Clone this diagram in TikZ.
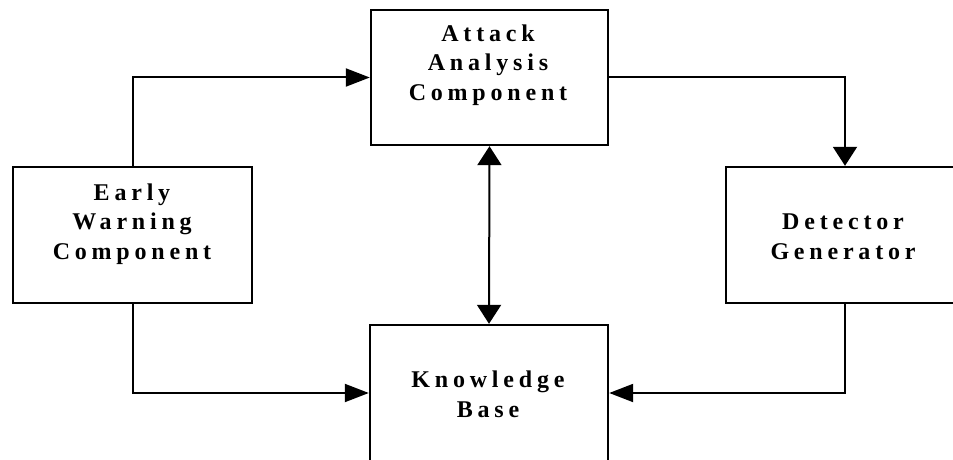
\documentclass[tikz,border=0pt]{standalone}
\usepackage{fontspec}
\newfontfamily\boxfont{Liberation Serif}[LetterSpace=20]
\usetikzlibrary{arrows.meta}
\begin{document}
\begin{tikzpicture}[x=1pt,y=-1pt,
  block/.style={draw, line width=2.4pt, inner sep=0pt},
  lbl/.style={align=center, inner sep=0pt, anchor=base,
    font=\boxfont\bfseries\fontsize{24}{29.5}\selectfont},
  link/.style={line width=2pt},
  hhead/.style={-{Triangle[length=24pt,width=18pt]}},
  vhead/.style={-{Triangle[length=19pt,width=24pt]}},
  bothhead/.style={{Triangle[length=19pt,width=24pt]}-{Triangle[length=19pt,width=24pt]}}
]
\useasboundingbox (0,0) rectangle (953,460);

% component boxes
\node[block, minimum width=237pt, minimum height=135pt] (attack) at (489.5,77.5) {};
\node[block, minimum width=239pt, minimum height=136pt] (warn) at (132.5,235) {};
\node[block, minimum width=238pt, minimum height=136pt] (detect) at (845,235) {};
\node[block, minimum width=238pt, minimum height=136pt] (kb) at (489,393) {};

% box captions (anchored at the baseline of the last line)
\node[lbl] (attacktxt) at (488,100) {Attack\\Analysis\\Component};
\node[lbl] (warntxt) at (132,259) {Early\\Warning\\Component};
\node[lbl] (detecttxt) at (843,259) {Detector\\Generator};
\node[lbl] (kbtxt) at (488,417) {Knowledge\\Base};

% connectors
\draw[link, hhead] (warn.north) |- (attack.west);
\draw[link, vhead] (attack.east) -| (detect.north);
\draw[link, hhead] (warn.south) |- (kb.west);
\draw[link, hhead] (detect.south) |- (kb.east);
\draw[link, bothhead] (attack.south) -- (kb.north);
\end{tikzpicture}
\end{document}
